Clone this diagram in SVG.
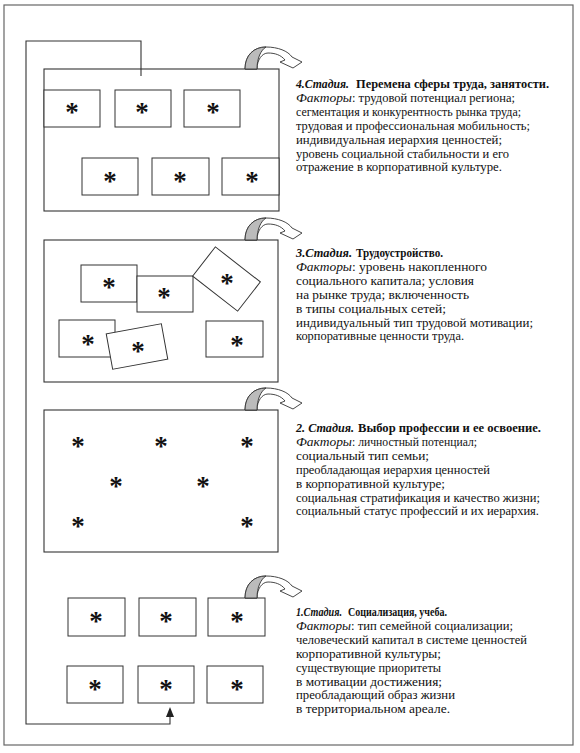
<svg xmlns="http://www.w3.org/2000/svg" xmlns:xlink="http://www.w3.org/1999/xlink" width="580" height="753" viewBox="0 0 580 753">
<style>
.frame{fill:none;stroke:#666;stroke-width:1.2}
.stage{fill:#fff;stroke:#333;stroke-width:1.1}
.cell{fill:#fff;stroke:#333;stroke-width:1}
.ast{font-family:"Liberation Serif","Times New Roman",serif;font-weight:bold;font-size:27px;fill:#111;text-anchor:middle}
.t{font-family:"Liberation Serif","Times New Roman",serif;font-size:12.5px;fill:#111}
.bi{font-weight:bold;font-style:italic}
.b{font-weight:bold}
.i{font-style:italic}
.link{fill:none;stroke:#333;stroke-width:1.1}
.ribbon{fill:#fff;stroke:#333;stroke-width:0.9;stroke-linejoin:round}
.shade{fill:#bbb;stroke:#333;stroke-width:0.9}
</style>
<defs>
<g id="turn">
<path class="ribbon" d="M0,0 C0,-14 9,-22 21,-22 C33,-22 43,-18 47,-12 L57,-7 L48,-1 L35,-7 L40,-9 C36,-14 30,-16 23,-16 C17,-16 12,-9 12,0 Z"/>
<path class="shade" d="M0,0 C0,-14 9,-22 21,-22 C16,-19 12,-11 12,0 Z"/>
</g>
</defs>
<rect width="580" height="753" fill="#fff"/>
<rect class="frame" x="4" y="5" width="569" height="740"/>

<g id="stage4">
<rect class="stage" x="44" y="69" width="235" height="142"/>
<g id="s4c1"><rect class="cell" x="44" y="90" width="56" height="37"/><text class="ast" x="72" y="121">*</text></g>
<g id="s4c2"><rect class="cell" x="115" y="90" width="56" height="37"/><text class="ast" x="142" y="121">*</text></g>
<g id="s4c3"><rect class="cell" x="184" y="90" width="56" height="37"/><text class="ast" x="213" y="121">*</text></g>
<g id="s4c4"><rect class="cell" x="82" y="158" width="56" height="37"/><text class="ast" x="110" y="190">*</text></g>
<g id="s4c5"><rect class="cell" x="152" y="158" width="57" height="37"/><text class="ast" x="180" y="190">*</text></g>
<g id="s4c6"><rect class="cell" x="222" y="158" width="57" height="37"/><text class="ast" x="252" y="190">*</text></g>
</g>
<g id="text4" class="t">
<text class="bi" x="296" y="88" textLength="53" lengthAdjust="spacingAndGlyphs">4.Стадия.</text>
<text class="b" x="356" y="88" textLength="193" lengthAdjust="spacingAndGlyphs">Перемена сферы труда, занятости.</text>
<text class="i" x="296" y="101.9" textLength="56" lengthAdjust="spacingAndGlyphs">Факторы</text>
<text x="352" y="101.9" textLength="163" lengthAdjust="spacingAndGlyphs">: трудовой потенциал региона;</text>
<text x="296" y="115.8" textLength="225" lengthAdjust="spacingAndGlyphs">сегментация и конкурентность рынка труда;</text>
<text x="296" y="129.7" textLength="234" lengthAdjust="spacingAndGlyphs">трудовая и профессиональная мобильность;</text>
<text x="296" y="143.6" textLength="206" lengthAdjust="spacingAndGlyphs">индивидуальная иерархия ценностей;</text>
<text x="296" y="157.5" textLength="213" lengthAdjust="spacingAndGlyphs">уровень социальной стабильности и его</text>
<text x="296" y="171.4" textLength="206" lengthAdjust="spacingAndGlyphs">отражение в корпоративной культуре.</text>
</g>

<g id="stage3">
<rect class="stage" x="44" y="240" width="234" height="142"/>
<g id="s3c1"><rect class="cell" x="81" y="265" width="56" height="37"/><text class="ast" x="109" y="296">*</text></g>
<g id="s3c2"><rect class="cell" x="137" y="276" width="56" height="36"/><text class="ast" x="164" y="306">*</text></g>
<g id="s3c3"><rect class="cell" x="198" y="260.5" width="57" height="37" transform="rotate(37.9 226.5 279)"/><text class="ast" x="227" y="292">*</text></g>
<g id="s3c4"><rect class="cell" x="59" y="320" width="56" height="37"/><text class="ast" x="88" y="353">*</text></g>
<g id="s3c5"><rect class="cell" x="109" y="328.5" width="56" height="36" transform="rotate(-10.3 137 346.5)"/><text class="ast" x="138" y="360">*</text></g>
<g id="s3c6"><rect class="cell" x="206" y="321" width="57" height="36"/><text class="ast" x="237" y="354">*</text></g>
</g>
<g id="text3" class="t">
<text class="bi" x="296" y="257" textLength="56" lengthAdjust="spacingAndGlyphs">3.Стадия.</text>
<text class="b" x="356" y="257" textLength="87" lengthAdjust="spacingAndGlyphs">Трудоустройство.</text>
<text class="i" x="296" y="270.9" textLength="56" lengthAdjust="spacingAndGlyphs">Факторы</text>
<text x="352" y="270.9" textLength="135" lengthAdjust="spacingAndGlyphs">: уровень накопленного</text>
<text x="296" y="284.8" textLength="178" lengthAdjust="spacingAndGlyphs">социального капитала; условия</text>
<text x="296" y="298.7" textLength="173" lengthAdjust="spacingAndGlyphs">на рынке труда; включенность</text>
<text x="296" y="312.6" textLength="150" lengthAdjust="spacingAndGlyphs">в типы социальных сетей;</text>
<text x="296" y="326.5" textLength="237" lengthAdjust="spacingAndGlyphs">индивидуальный тип трудовой мотивации;</text>
<text x="296" y="340.4" textLength="168" lengthAdjust="spacingAndGlyphs">корпоративные ценности труда.</text>
</g>

<g id="stage2">
<rect class="stage" x="44" y="410" width="234" height="142"/>
<text class="ast" x="78" y="455">*</text>
<text class="ast" x="161" y="455">*</text>
<text class="ast" x="247" y="455">*</text>
<text class="ast" x="116" y="495">*</text>
<text class="ast" x="203" y="495">*</text>
<text class="ast" x="78" y="535">*</text>
<text class="ast" x="247" y="535">*</text>
</g>
<g id="text2" class="t">
<text class="bi" x="296" y="432" textLength="58" lengthAdjust="spacingAndGlyphs">2. Стадия.</text>
<text class="b" x="358" y="432" textLength="183" lengthAdjust="spacingAndGlyphs">Выбор профессии и ее освоение.</text>
<text class="i" x="296" y="445.9" textLength="56" lengthAdjust="spacingAndGlyphs">Факторы</text>
<text x="352" y="445.9" textLength="125" lengthAdjust="spacingAndGlyphs">: личностный потенциал;</text>
<text x="296" y="459.8" textLength="133" lengthAdjust="spacingAndGlyphs">социальный тип семьи;</text>
<text x="296" y="473.7" textLength="194" lengthAdjust="spacingAndGlyphs">преобладающая иерархия ценностей</text>
<text x="296" y="487.6" textLength="149" lengthAdjust="spacingAndGlyphs">в корпоративной культуре;</text>
<text x="296" y="501.5" textLength="244" lengthAdjust="spacingAndGlyphs">социальная стратификация и качество жизни;</text>
<text x="296" y="515.4" textLength="243" lengthAdjust="spacingAndGlyphs">социальный статус профессий и их иерархия.</text>
</g>

<g id="stage1">
<g id="s1c1"><rect class="cell" x="68" y="598" width="57" height="38"/><text class="ast" x="96" y="630">*</text></g>
<g id="s1c2"><rect class="cell" x="139" y="598" width="57" height="38"/><text class="ast" x="166" y="630">*</text></g>
<g id="s1c3"><rect class="cell" x="208" y="598" width="57" height="38"/><text class="ast" x="237" y="630">*</text></g>
<g id="s1c4"><rect class="cell" x="67" y="666" width="56" height="37"/><text class="ast" x="95" y="698">*</text></g>
<g id="s1c5"><rect class="cell" x="138" y="666" width="56" height="37"/><text class="ast" x="166" y="698">*</text></g>
<g id="s1c6"><rect class="cell" x="207" y="666" width="56" height="37"/><text class="ast" x="237" y="698">*</text></g>
</g>
<g id="text1" class="t">
<text class="bi" x="296" y="616" textLength="46" lengthAdjust="spacingAndGlyphs">1.Стадия.</text>
<text class="b" x="348" y="616" textLength="99" lengthAdjust="spacingAndGlyphs">Социализация, учеба.</text>
<text class="i" x="296" y="629.9" textLength="55" lengthAdjust="spacingAndGlyphs">Факторы</text>
<text x="351" y="629.9" textLength="162" lengthAdjust="spacingAndGlyphs">: тип семейной социализации;</text>
<text x="296" y="643.8" textLength="231" lengthAdjust="spacingAndGlyphs">человеческий капитал в системе ценностей</text>
<text x="296" y="657.7" textLength="145" lengthAdjust="spacingAndGlyphs">корпоративной культуры;</text>
<text x="296" y="671.6" textLength="145" lengthAdjust="spacingAndGlyphs">существующие приоритеты</text>
<text x="296" y="685.5" textLength="146" lengthAdjust="spacingAndGlyphs">в мотивации достижения;</text>
<text x="296" y="699.4" textLength="159" lengthAdjust="spacingAndGlyphs">преобладающий образ жизни</text>
<text x="296" y="713.3" textLength="154" lengthAdjust="spacingAndGlyphs">в территориальном ареале.</text>
</g>

<g id="connectors">
<path class="link" d="M170,716 L170,724 L26,724 L26,41 L141,41 L141,76"/>
<polygon points="170,707 166,717 174,717" fill="#222"/>
<use xlink:href="#turn" x="245" y="69"/>
<use xlink:href="#turn" x="245" y="240"/>
<use xlink:href="#turn" x="245" y="410"/>
<use xlink:href="#turn" x="245" y="598"/>
</g>
</svg>
